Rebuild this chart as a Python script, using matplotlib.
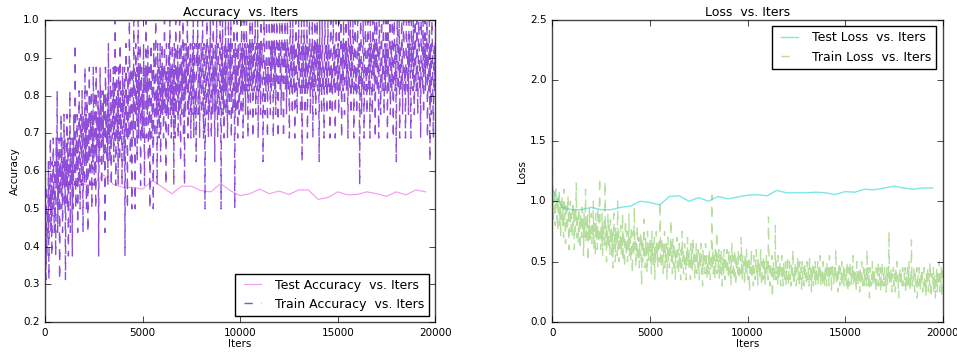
import matplotlib
matplotlib.use("Agg")
import matplotlib.pyplot as plt

# ---- data ----
# train curves logged every 25 iters, test curves every 500 iters
train_iters = list(range(0, 20001, 25))
test_iters = list(range(0, 19501, 500))

# one row = 500 iters of training batches
train_acc = [
    0.25, 0.4375, 0.3125, 0.5625, 0.375, 0.5, 0.4375, 0.625, 0.3125, 0.5625, 0.5, 0.6875, 0.4375, 0.5625, 0.375, 0.625, 0.5, 0.6875, 0.5625, 0.4375,
    0.625, 0.5, 0.375, 0.6875, 0.5625, 0.8125, 0.4375, 0.625, 0.5, 0.6875, 0.3125, 0.625, 0.5625, 0.75, 0.5, 0.6875, 0.4375, 0.625, 0.5625, 0.75,
    0.5, 0.6875, 0.3125, 0.625, 0.5625, 0.75, 0.5, 0.6875, 0.375, 0.625, 0.5625, 0.8125, 0.4375, 0.6875, 0.5625, 0.625, 0.375, 0.6875, 0.5, 0.75,
    0.625, 0.5625, 0.9375, 0.5, 0.6875, 0.625, 0.75, 0.4375, 0.6875, 0.5625, 0.8125, 0.625, 0.5, 0.75, 0.6875, 0.5625, 0.8125, 0.625, 0.4375, 0.75,
    0.6875, 0.5625, 0.875, 0.625, 0.75, 0.5, 0.8125, 0.6875, 0.4375, 0.75, 0.625, 0.875, 0.5625, 0.75, 0.6875, 0.8125, 0.5, 0.75, 0.625, 0.875,
    0.6875, 0.5625, 0.8125, 0.75, 0.5, 0.875, 0.625, 0.75, 0.6875, 0.8125, 0.375, 0.75, 0.625, 0.875, 0.6875, 0.8125, 0.5625, 0.75, 0.6875, 0.8125,
    0.625, 0.8125, 0.75, 0.4375, 0.875, 0.6875, 0.75, 0.625, 0.8125, 0.5625, 0.9375, 0.6875, 0.75, 0.625, 0.875, 0.75, 0.5625, 0.8125, 0.6875, 0.75,
    0.875, 0.625, 0.8125, 0.6875, 1.0, 0.5625, 0.75, 0.875, 0.6875, 0.8125, 0.5625, 0.875, 0.75, 0.625, 0.9375, 0.6875, 0.8125, 0.75, 0.5625, 0.875,
    0.75, 0.8125, 0.625, 0.875, 0.375, 0.75, 0.9375, 0.6875, 0.8125, 0.5, 0.875, 0.75, 0.6875, 1.0, 0.8125, 0.625, 0.875, 0.75, 0.5, 0.8125,
    0.875, 0.6875, 1.0, 0.75, 0.8125, 0.5, 0.9375, 0.75, 0.875, 0.625, 0.8125, 1.0, 0.6875, 0.875, 0.75, 0.9375, 0.5625, 0.8125, 0.875, 0.6875,
    0.8125, 0.6875, 0.9375, 0.75, 0.5625, 0.875, 0.8125, 1.0, 0.6875, 0.875, 0.75, 0.9375, 0.625, 0.8125, 0.875, 0.5, 0.75, 0.9375, 0.8125, 0.6875,
    0.875, 0.75, 0.5, 0.9375, 0.8125, 0.6875, 0.875, 1.0, 0.75, 0.8125, 0.5625, 0.9375, 0.75, 0.875, 0.6875, 0.8125, 0.9375, 0.625, 0.875, 0.75,
    0.9375, 0.75, 0.875, 0.6875, 0.8125, 1.0, 0.75, 0.875, 0.5625, 0.9375, 0.8125, 0.75, 0.875, 0.6875, 0.9375, 0.8125, 1.0, 0.75, 0.875, 0.6875,
    0.8125, 0.9375, 0.75, 0.875, 0.5625, 0.9375, 0.8125, 0.6875, 1.0, 0.75, 0.875, 0.8125, 0.9375, 0.6875, 0.875, 0.75, 1.0, 0.8125, 0.625, 0.9375,
    0.75, 0.875, 0.8125, 1.0, 0.6875, 0.9375, 0.5625, 0.875, 0.75, 0.9375, 0.8125, 0.875, 1.0, 0.6875, 0.9375, 0.75, 0.8125, 0.875, 0.9375, 0.6875,
    0.875, 0.75, 0.9375, 0.8125, 1.0, 0.6875, 0.875, 0.9375, 0.75, 0.8125, 0.625, 0.9375, 0.875, 1.0, 0.75, 0.8125, 0.9375, 0.6875, 0.875, 0.8125,
    0.9375, 0.75, 0.875, 1.0, 0.8125, 0.6875, 0.9375, 0.875, 0.5, 0.8125, 0.9375, 0.75, 1.0, 0.875, 0.8125, 0.6875, 0.9375, 0.75, 0.875, 1.0,
    0.8125, 0.6875, 0.9375, 0.875, 0.75, 1.0, 0.8125, 0.875, 0.625, 0.9375, 0.75, 0.875, 1.0, 0.8125, 0.6875, 0.9375, 0.875, 0.75, 0.8125, 1.0,
    0.875, 0.5, 0.9375, 0.8125, 1.0, 0.75, 0.875, 0.6875, 0.9375, 0.8125, 1.0, 0.75, 0.875, 0.9375, 0.6875, 0.8125, 1.0, 0.875, 0.75, 0.9375,
    0.8125, 1.0, 0.6875, 0.875, 0.9375, 0.75, 0.8125, 1.0, 0.875, 0.5, 0.9375, 0.75, 0.875, 0.8125, 1.0, 0.6875, 0.9375, 0.875, 0.75, 0.8125,
    0.9375, 0.875, 0.75, 1.0, 0.8125, 0.9375, 0.6875, 0.875, 1.0, 0.8125, 0.9375, 0.75, 0.875, 1.0, 0.8125, 0.9375, 0.6875, 0.875, 0.9375, 0.8125,
    1.0, 0.75, 0.9375, 0.875, 0.8125, 1.0, 0.6875, 0.9375, 0.875, 0.8125, 0.9375, 1.0, 0.75, 0.875, 0.9375, 0.8125, 1.0, 0.6875, 0.875, 0.9375,
    0.8125, 0.9375, 0.75, 1.0, 0.875, 0.9375, 0.8125, 0.625, 0.875, 1.0, 0.9375, 0.75, 0.875, 0.8125, 1.0, 0.9375, 0.6875, 0.875, 0.8125, 0.9375,
    1.0, 0.875, 0.75, 0.9375, 0.8125, 1.0, 0.875, 0.9375, 0.6875, 0.875, 1.0, 0.8125, 0.9375, 0.75, 0.875, 1.0, 0.9375, 0.8125, 0.6875, 0.9375,
    0.875, 1.0, 0.8125, 0.9375, 0.75, 0.875, 1.0, 0.9375, 0.8125, 0.6875, 0.9375, 0.875, 1.0, 0.8125, 0.9375, 0.75, 0.875, 1.0, 0.8125, 0.9375,
    0.875, 0.6875, 0.9375, 1.0, 0.8125, 0.875, 0.9375, 0.75, 1.0, 0.875, 0.8125, 0.9375, 0.6875, 0.875, 1.0, 0.9375, 0.8125, 0.75, 0.9375, 0.875,
    1.0, 0.8125, 0.9375, 0.875, 0.75, 0.9375, 1.0, 0.625, 0.875, 0.9375, 0.8125, 1.0, 0.875, 0.75, 0.9375, 0.8125, 0.875, 1.0, 0.6875, 0.9375,
    0.875, 0.8125, 1.0, 0.9375, 0.75, 0.875, 0.9375, 0.8125, 1.0, 0.6875, 0.875, 0.9375, 0.8125, 1.0, 0.875, 0.75, 0.9375, 0.875, 1.0, 0.8125,
    0.9375, 0.875, 0.625, 1.0, 0.8125, 0.9375, 0.875, 0.75, 1.0, 0.9375, 0.8125, 0.875, 0.6875, 0.9375, 1.0, 0.875, 0.8125, 0.9375, 0.75, 0.875,
    1.0, 0.8125, 0.9375, 0.875, 0.6875, 0.9375, 1.0, 0.8125, 0.875, 0.75, 0.9375, 1.0, 0.875, 0.8125, 0.9375, 0.6875, 0.875, 1.0, 0.9375, 0.8125,
    0.875, 0.9375, 0.75, 1.0, 0.875, 0.8125, 0.9375, 1.0, 0.6875, 0.875, 0.9375, 0.8125, 1.0, 0.875, 0.75, 0.9375, 0.875, 1.0, 0.8125, 0.9375,
    0.875, 0.6875, 1.0, 0.9375, 0.8125, 0.875, 1.0, 0.75, 0.9375, 0.875, 0.8125, 1.0, 0.9375, 0.6875, 0.875, 0.9375, 1.0, 0.8125, 0.875, 0.75,
    0.9375, 1.0, 0.875, 0.8125, 0.9375, 0.5625, 0.875, 1.0, 0.9375, 0.75, 0.875, 0.8125, 1.0, 0.9375, 0.6875, 0.875, 0.9375, 1.0, 0.8125, 0.875,
    0.75, 0.9375, 1.0, 0.875, 0.8125, 0.9375, 0.6875, 1.0, 0.875, 0.9375, 0.8125, 0.75, 1.0, 0.875, 0.9375, 0.8125, 1.0, 0.6875, 0.9375, 0.875,
    1.0, 0.8125, 0.9375, 0.875, 0.6875, 1.0, 0.9375, 0.875, 0.75, 0.9375, 1.0, 0.8125, 0.875, 0.9375, 1.0, 0.75, 0.875, 0.9375, 0.8125, 1.0,
    0.875, 0.9375, 0.6875, 1.0, 0.875, 0.8125, 0.9375, 1.0, 0.75, 0.875, 0.9375, 0.8125, 1.0, 0.875, 0.6875, 0.9375, 1.0, 0.875, 0.8125, 0.9375,
    0.625, 0.875, 1.0, 0.9375, 0.8125, 0.875, 1.0, 0.6875, 0.9375, 0.875, 0.8125, 1.0, 0.9375, 0.75, 0.875, 1.0, 0.9375, 0.8125, 0.875, 0.6875,
    0.9375, 1.0, 0.875, 0.8125, 0.9375, 0.75, 1.0, 0.875, 0.9375, 0.8125, 0.6875, 1.0, 0.875, 0.9375, 0.8125, 1.0, 0.875, 0.75, 0.9375, 1.0,
    0.875, 0.8125, 1.0, 0.9375, 0.75, 0.875, 1.0, 0.9375, 0.8125, 0.875, 0.6875, 1.0, 0.9375, 0.875, 0.8125, 1.0, 0.75, 0.9375, 0.875, 1.0,
    0.8125, 0.9375, 0.875, 1.0, 0.6875, 0.9375, 0.875, 0.8125, 1.0, 0.625, 0.9375, 0.875, 0.75, 1.0, 0.9375, 0.8125, 0.6875, 0.875, 0.9375, 0.8125,
    0.9375,
]

test_acc = [
    0.50, 0.555, 0.565, 0.565, 0.565, 0.565, 0.59, 0.565, 0.557, 0.557,
    0.552, 0.575, 0.558, 0.54, 0.56, 0.56, 0.548, 0.545, 0.567, 0.548,
    0.535, 0.54, 0.552, 0.54, 0.547, 0.538, 0.55, 0.55, 0.525, 0.53,
    0.545, 0.537, 0.538, 0.545, 0.54, 0.533, 0.545, 0.537, 0.55, 0.545,
]

train_loss = [
    1.55, 1.0, 0.85, 1.1, 0.9, 1.05, 0.8, 1.1, 0.95, 0.85, 1.05, 0.75, 1.0, 0.9, 1.1, 0.8, 0.95, 0.7, 1.0, 0.85,
    1.05, 0.8, 0.95, 0.7, 1.1, 0.85, 0.9, 0.65, 1.0, 0.8, 0.95, 0.75, 1.05, 0.85, 0.6, 0.95, 0.8, 1.0, 0.75, 0.9,
    0.85, 0.7, 1.0, 0.8, 0.9, 0.6, 0.95, 0.75, 0.85, 1.15, 0.7, 0.9, 0.8, 0.65, 0.95, 0.75, 0.85, 0.6, 0.9, 0.8,
    0.7, 0.95, 0.75, 0.85, 0.55, 0.9, 0.7, 0.8, 1.1, 0.65, 0.85, 0.75, 0.9, 0.5, 0.8, 0.7, 0.95, 0.65, 0.8, 0.75,
    0.9, 0.65, 0.8, 0.7, 1.0, 0.6, 0.85, 0.75, 0.55, 0.9, 0.7, 0.8, 0.6, 0.95, 0.75, 0.65, 0.85, 1.2, 0.7, 0.6,
    0.8, 0.65, 0.9, 0.55, 0.75, 0.7, 0.85, 0.6, 1.17, 0.7, 0.8, 0.5, 0.75, 0.65, 0.9, 0.6, 0.8, 0.7, 0.55, 0.85,
    0.65, 0.8, 0.55, 0.75, 0.45, 0.7, 0.9, 0.6, 0.75, 0.5, 0.8, 0.65, 0.7, 0.55, 1.0, 0.6, 0.75, 0.5, 0.7, 0.65,
    0.8, 0.55, 0.7, 0.6, 0.9, 0.5, 0.75, 0.65, 0.45, 0.7, 0.85, 0.55, 0.65, 0.75, 0.5, 0.7, 0.6, 0.9, 0.55, 0.65,
    0.7, 0.5, 0.8, 0.6, 0.4, 0.65, 0.75, 0.55, 0.95, 0.6, 0.7, 0.45, 0.65, 0.55, 0.8, 0.6, 0.5, 0.7, 0.45, 0.65,
    0.55, 0.75, 0.6, 0.3, 0.7, 0.5, 0.65, 0.55, 0.85, 0.6, 0.45, 0.7, 0.55, 0.65, 0.4, 0.75, 0.6, 0.5, 0.65, 0.55,
    0.7, 0.5, 0.6, 0.4, 0.75, 0.55, 0.65, 0.45, 0.6, 0.7, 0.35, 0.6, 0.5, 0.75, 0.55, 0.65, 0.45, 0.6, 0.7, 0.5,
    0.6, 1.0, 0.55, 0.45, 0.7, 0.5, 0.65, 0.4, 0.6, 0.55, 0.75, 0.45, 0.6, 0.5, 0.65, 0.35, 0.55, 0.7, 0.5, 0.6,
    0.45, 0.65, 0.55, 0.85, 0.5, 0.6, 0.4, 0.7, 0.55, 0.45, 0.65, 0.5, 0.35, 0.6, 0.55, 0.7, 0.45, 0.6, 0.5, 0.4,
    0.65, 0.5, 0.55, 0.35, 0.6, 0.45, 0.75, 0.5, 0.6, 0.4, 0.55, 0.65, 0.45, 0.5, 0.35, 0.6, 0.5, 0.7, 0.45, 0.55,
    0.6, 0.45, 0.55, 0.35, 0.65, 0.5, 0.6, 0.4, 0.7, 0.5, 0.45, 0.6, 0.35, 0.55, 0.5, 0.65, 0.4, 0.55, 0.45, 0.6,
    0.5, 0.35, 0.6, 0.45, 0.55, 0.65, 0.4, 0.5, 0.3, 0.6, 0.45, 0.55, 0.5, 0.4, 0.65, 0.45, 0.55, 0.35, 0.5, 0.45,
    0.55, 0.4, 0.6, 0.45, 0.35, 0.55, 0.5, 1.05, 0.45, 0.6, 0.4, 0.5, 0.55, 0.35, 0.6, 0.45, 0.5, 0.75, 0.4, 0.55,
    0.45, 0.6, 0.35, 0.5, 0.55, 0.4, 0.6, 0.45, 0.3, 0.55, 0.5, 0.4, 0.6, 0.45, 0.35, 0.55, 0.5, 0.4, 0.6, 0.45,
    0.5, 0.35, 0.6, 0.45, 0.4, 0.55, 0.3, 0.5, 0.65, 0.4, 0.45, 0.55, 0.35, 0.5, 0.6, 0.4, 0.3, 0.55, 0.45, 0.5,
    0.4, 0.6, 0.45, 0.35, 0.5, 0.55, 0.4, 0.7, 0.45, 0.35, 0.55, 0.4, 0.5, 0.45, 0.3, 0.55, 0.4, 0.5, 0.6, 0.4,
    0.5, 0.35, 0.45, 0.55, 0.25, 0.45, 0.5, 0.4, 0.6, 0.35, 0.45, 0.5, 0.3, 0.55, 0.4, 0.45, 0.35, 0.5, 0.6, 0.4,
    0.45, 0.3, 0.55, 0.4, 0.5, 0.35, 0.45, 0.6, 0.4, 0.3, 0.5, 0.45, 0.35, 0.55, 0.4, 0.5, 0.3, 0.45, 0.4, 0.55,
    0.4, 0.5, 0.35, 0.87, 0.45, 0.4, 0.3, 0.5, 0.45, 0.35, 0.55, 0.2, 0.4, 0.5, 0.35, 0.45, 0.4, 0.8, 0.35, 0.5,
    0.4, 0.45, 0.3, 0.55, 0.4, 0.35, 0.5, 0.45, 0.3, 0.4, 0.55, 0.35, 0.45, 0.3, 0.5, 0.4, 0.35, 0.45, 0.5, 0.3,
    0.45, 0.35, 0.55, 0.4, 0.3, 0.45, 0.5, 0.35, 0.4, 0.3, 0.5, 0.45, 0.35, 0.6, 0.4, 0.3, 0.45, 0.35, 0.5, 0.4,
    0.3, 0.45, 0.4, 0.55, 0.35, 0.45, 0.3, 0.5, 0.4, 0.35, 0.45, 0.25, 0.5, 0.4, 0.35, 0.45, 0.3, 0.5, 0.35, 0.45,
    0.4, 0.3, 0.5, 0.35, 0.45, 0.4, 0.3, 0.55, 0.35, 0.45, 0.4, 0.25, 0.45, 0.35, 0.5, 0.3, 0.4, 0.45, 0.35, 0.5,
    0.3, 0.45, 0.35, 0.4, 0.5, 0.3, 0.45, 0.35, 0.4, 0.55, 0.3, 0.4, 0.35, 0.45, 0.3, 0.5, 0.35, 0.4, 0.3, 0.45,
    0.35, 0.45, 0.3, 0.5, 0.4, 0.35, 0.45, 0.3, 0.55, 0.4, 0.35, 0.45, 0.25, 0.4, 0.5, 0.35, 0.4, 0.3, 0.45, 0.35,
    0.4, 0.6, 0.35, 0.3, 0.45, 0.25, 0.4, 0.35, 0.5, 0.3, 0.45, 0.4, 0.35, 0.5, 0.3, 0.4, 0.35, 0.45, 0.3, 0.4,
    0.45, 0.35, 0.4, 0.3, 0.5, 0.35, 0.25, 0.45, 0.4, 0.3, 0.5, 0.35, 0.45, 0.3, 0.4, 0.35, 0.55, 0.3, 0.4, 0.35,
    0.45, 0.3, 0.4, 0.25, 0.5, 0.35, 0.4, 0.3, 0.45, 0.35, 0.25, 0.45, 0.4, 0.3, 0.5, 0.35, 0.4, 0.3, 0.45, 0.35,
    0.3, 0.45, 0.35, 0.4, 0.3, 0.6, 0.35, 0.45, 0.3, 0.4, 0.2, 0.45, 0.35, 0.3, 0.4, 0.35, 0.5, 0.3, 0.4, 0.35,
    0.45, 0.3, 0.35, 0.25, 0.45, 0.35, 0.3, 0.4, 0.5, 0.3, 0.4, 0.35, 0.45, 0.25, 0.4, 0.3, 0.5, 0.35, 0.3, 0.4,
    0.35, 0.45, 0.3, 0.4, 0.25, 0.35, 0.45, 0.3, 0.4, 0.35, 0.75, 0.3, 0.4, 0.35, 0.45, 0.3, 0.25, 0.4, 0.35, 0.45,
    0.3, 0.4, 0.35, 0.25, 0.45, 0.3, 0.5, 0.35, 0.4, 0.3, 0.2, 0.4, 0.35, 0.45, 0.3, 0.4, 0.35, 0.3, 0.45, 0.35,
    0.3, 0.4, 0.35, 0.45, 0.25, 0.35, 0.4, 0.3, 0.45, 0.35, 0.3, 0.5, 0.35, 0.25, 0.4, 0.3, 0.68, 0.35, 0.3, 0.4,
    0.35, 0.45, 0.3, 0.25, 0.4, 0.35, 0.3, 0.45, 0.2, 0.35, 0.4, 0.3, 0.45, 0.35, 0.25, 0.4, 0.3, 0.35, 0.45, 0.25,
    0.35, 0.3, 0.45, 0.4, 0.25, 0.35, 0.2, 0.4, 0.3, 0.45, 0.35, 0.25, 0.4, 0.3, 0.5, 0.35, 0.2, 0.3, 0.4, 0.35,
    0.3, 0.45, 0.25, 0.35, 0.4, 0.2, 0.35, 0.3, 0.45, 0.25, 0.4, 0.3, 0.35, 0.5, 0.25, 0.4, 0.3, 0.45, 0.2, 0.35,
    0.5,
]

test_loss = [
    1.10, 0.95, 0.93, 0.93, 0.95, 0.93, 0.93, 0.95, 0.96, 1.00,
    0.99, 0.97, 1.04, 1.045, 1.00, 1.03, 1.00, 1.04, 1.02, 1.035,
    1.05, 1.055, 1.045, 1.09, 1.07, 1.07, 1.07, 1.075, 1.07, 1.055,
    1.08, 1.075, 1.10, 1.095, 1.11, 1.125, 1.11, 1.10, 1.11, 1.11,
]

# ---- plot ----
plt.style.use("classic")
plt.rcParams["figure.facecolor"] = "white"
plt.rcParams["savefig.facecolor"] = "white"
plt.rcParams["xtick.labelsize"] = 7.5
plt.rcParams["ytick.labelsize"] = 7.5
plt.rcParams["axes.labelsize"] = 7.5
plt.rcParams["axes.titlesize"] = 9
plt.rcParams["legend.fontsize"] = 9

fig, (ax1, ax2) = plt.subplots(1, 2, figsize=(9.57, 3.52), dpi=100)
fig.subplots_adjust(left=0.047, right=0.985, bottom=0.085, top=0.943, wspace=0.30)

ax1.plot(test_iters, test_acc, "-", color="violet", lw=0.8, alpha=0.8,
         label="Test Accuracy  vs. Iters")
ax1.plot(train_iters, train_acc, "--", color="#7b2fd0", lw=1.0, alpha=0.85,
         label="Train Accuracy  vs. Iters")
ax1.set_xlim(0, 20000)
ax1.set_ylim(0.2, 1.0)
ax1.set_xticks([0, 5000, 10000, 15000, 20000])
ax1.set_xlabel("Iters", labelpad=1)
ax1.set_ylabel("Accuracy", labelpad=2)
ax1.set_title("Accuracy  vs. Iters", pad=3)
ax1.legend(loc="lower right", borderaxespad=0.5)

ax2.plot(test_iters, test_loss, "-", color="darkturquoise", lw=1.0, alpha=0.5,
         label="Test Loss  vs. Iters")
ax2.plot(train_iters, train_loss, "--", color="#6cbf3c", lw=1.0, alpha=0.5,
         label="Train Loss  vs. Iters")
ax2.set_xlim(0, 20000)
ax2.set_ylim(0, 2.5)
ax2.set_xticks([0, 5000, 10000, 15000, 20000])
ax2.set_xlabel("Iters", labelpad=1)
ax2.set_ylabel("Loss", labelpad=2)
ax2.set_title("Loss  vs. Iters", pad=3)
ax2.legend(loc="upper right", borderaxespad=0.5)

for ax in (ax1, ax2):
    for sp in ax.spines.values():
        sp.set_edgecolor("#444444")

plt.savefig("out.png", dpi=100)
